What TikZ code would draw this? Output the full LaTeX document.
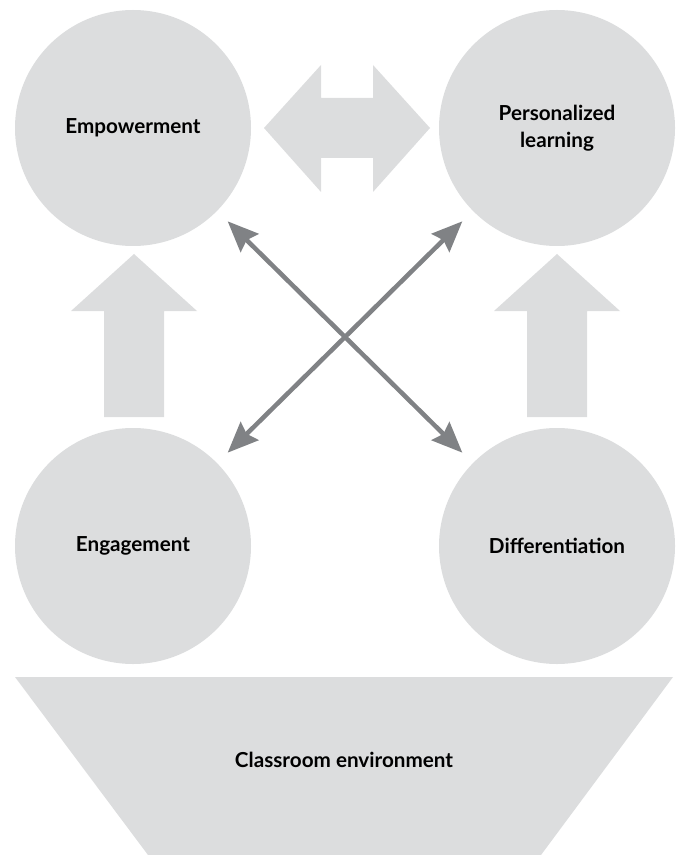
\documentclass[tikz,border=0pt]{standalone}
\usepackage{fontspec}
\setmainfont{Lato}
\usetikzlibrary{arrows.meta}

\definecolor{bubblegray}{RGB}{220,221,222}
\definecolor{linkgray}{RGB}{128,130,133}

\tikzset{
  bubble/.style={circle, fill=bubblegray, minimum size=177pt, inner sep=0pt,
    font=\bfseries\fontsize{15.5}{20}\selectfont, align=center},
  blockarrow/.style={fill=bubblegray, draw=none},
  linkarrow/.style={draw=linkgray, line width=3.4pt,
    {Stealth[length=23pt,width=19pt,inset=3pt]}-{Stealth[length=23pt,width=19pt,inset=3pt]},
    shorten <=11pt, shorten >=11pt},
}

\begin{document}
\begin{tikzpicture}[x=0.75pt,y=0.75pt,yscale=-1,xscale=1]
\useasboundingbox (0,0) rectangle (678,855);

%Shape: Circles
\draw (133,128) node [bubble] (empower) {Empowerment};
\draw (557,128) node [bubble] (personal) {Personalized\\learning};
\draw (133,546) node [bubble] (engage) {Engagement};
\draw (557,546) node [bubble] (differ) {Differentiation};

%Shape: Trapezoid
\fill [blockarrow] (15,677) -- (673,677) -- (541,855) -- (148,855) -- cycle ;
\draw (344,760) node [font=\bfseries\fontsize{15.5}{20}\selectfont] (room) {Classroom environment};

%Shape: Up Arrows
\fill [blockarrow] (104,417) -- (104,311) -- (71,311) -- (134,254) -- (197,311) -- (164,311) -- (164,417) -- cycle ;
\fill [blockarrow] (527,417) -- (527,311) -- (494,311) -- (557,254) -- (620,311) -- (587,311) -- (587,417) -- cycle ;

%Shape: Left Right Arrow
\fill [blockarrow] (264,128) -- (321,65) -- (321,98) -- (373,98) -- (373,65) -- (430,128) -- (373,192) -- (373,158) -- (321,158) -- (321,192) -- cycle ;

%Straight Lines: crossing arrows
\draw [linkarrow] (empower) -- (differ) ;
\draw [linkarrow] (engage) -- (personal) ;

\end{tikzpicture}
\end{document}
